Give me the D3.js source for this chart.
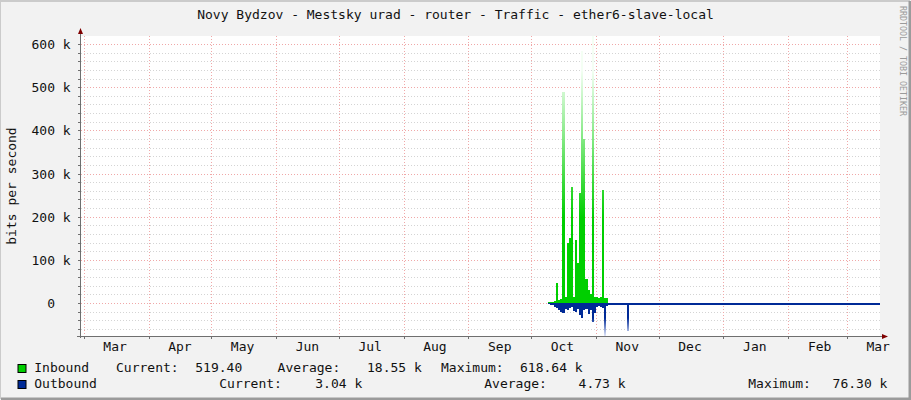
<!DOCTYPE html>
<html>
<head>
<meta charset="utf-8">
<title>Novy Bydzov - Mestsky urad - router - Traffic - ether6-slave-local</title>
<script src="https://cdn.jsdelivr.net/npm/d3@7/dist/d3.min.js"></script>
<style>
    body { margin: 0; background: #f2f2f2; }
    text {
        font-family: 'DejaVu Sans Mono', monospace;
        font-size: 13px;
        fill: #111;
        white-space: pre;
    }
</style>
</head>
<body>
<script>
    // daily samples, kbit/s (outbound drawn below zero)
    var dates = ['2022-10-09', '2022-10-10', '2022-10-11', '2022-10-12', '2022-10-13', '2022-10-14',
        '2022-10-15', '2022-10-16', '2022-10-17', '2022-10-18', '2022-10-19', '2022-10-20',
        '2022-10-21', '2022-10-22', '2022-10-23', '2022-10-24', '2022-10-25', '2022-10-26',
        '2022-10-27', '2022-10-28', '2022-10-29', '2022-10-30', '2022-10-31', '2022-11-01',
        '2022-11-02', '2022-11-03', '2022-11-04', '2022-11-05', '2022-11-06', '2022-11-07',
        '2022-11-16', '2022-11-17', '2022-12-01', '2023-01-01', '2023-02-01', '2023-03-01'];
    var inbound = [2, 3, 3, 5, 47, 8,
        10, 490, 15, 140, 150, 270,
        15, 146, 92, 255, 585, 380,
        55, 30, 22, 618.64, 14, 13,
        12, 14, 262, 12, 12, 0.5,
        0.5, 0.5, 0.5, 0.5, 0.5, 0.5];
    var outbound = [3, 4, 5, 8, 12, 15,
        20, 22, 14, 16, 12, 10,
        18, 20, 14, 28, 35, 15,
        14, 26, 15, 44, 22, 8,
        6, 8, 12, 76.3, 6, 4,
        65, 4, 4, 4, 4, 4];

    var yMajor = [0, 100, 200, 300, 400, 500, 600];
    var yLabels = ['  0  ', '100 k', '200 k', '300 k', '400 k', '500 k', '600 k'];
    var monthLabels = ['Mar', 'Apr', 'May', 'Jun', 'Jul', 'Aug', 'Sep', 'Oct', 'Nov', 'Dec', 'Jan', 'Feb', 'Mar'];

    var legendRows = [
        { name: 'Inbound', color: '#00cf00', parts: [
            ['Current:', 116], ['519.40', 195.3], ['Average:', 277.6], ['18.55 k', 367],
            ['Maximum:', 441], ['618.64 k', 520]] },
        { name: 'Outbound', color: '#002a97', parts: [
            ['Current:', 219.3], ['3.04 k', 315.3], ['Average:', 484.3], ['4.73 k', 578.6],
            ['Maximum:', 748.3], ['76.30 k', 832.6]] }
    ];

    var W = 911, H = 400;
    var plotL = 81, plotR = 880, plotT = 36, plotB = 336;

    var parseDay = d3.timeParse('%Y-%m-%d');
    var parseTime = d3.timeParse('%Y-%m-%d %H:%M');
    var xStart = parseTime('2022-02-27 17:00'),
        xEnd = parseTime('2023-03-16 21:00');

    var rows = dates.map(function(d, i) {
        return { date: parseDay(d), inb: inbound[i], out: outbound[i] };
    });
    rows.push({ date: xEnd, inb: inbound[inbound.length - 1], out: outbound[outbound.length - 1] });

    var x = d3.scaleTime().domain([xStart, xEnd]).range([plotL, plotR]);
    var y = d3.scaleLinear().domain([-76.3, 618.64]).range([plotB, plotT]);

    var svg = d3.select('body').append('svg')
        .attr('width', W)
        .attr('height', H);

    // background and shading border
    svg.append('rect').attr('width', W).attr('height', H).attr('fill', '#f2f2f2');
    svg.append('path').attr('d', 'M0,' + (H - 1) + 'V1H' + (W - 1)).attr('fill', 'none')
        .attr('stroke', '#cbcbcb').attr('stroke-width', 2);
    svg.append('path').attr('d', 'M1,' + (H - 1) + 'H' + (W - 1) + 'V1').attr('fill', 'none')
        .attr('stroke', '#9b9b9b').attr('stroke-width', 3);

    svg.append('rect')
        .attr('x', plotL).attr('y', plotT)
        .attr('width', plotR - plotL).attr('height', plotB - plotT)
        .attr('fill', '#fff');

    var defs = svg.append('defs');
    var gIn = defs.append('linearGradient').attr('id', 'gIn')
        .attr('gradientUnits', 'userSpaceOnUse')
        .attr('x1', 0).attr('x2', 0).attr('y1', y(0)).attr('y2', y(600));
    gIn.append('stop').attr('offset', 0).attr('stop-color', '#00cf00');
    gIn.append('stop').attr('offset', 0.33).attr('stop-color', '#00cf00');
    gIn.append('stop').attr('offset', 0.9).attr('stop-color', '#f4fff4');
    var gOut = defs.append('linearGradient').attr('id', 'gOut')
        .attr('gradientUnits', 'userSpaceOnUse')
        .attr('x1', 0).attr('x2', 0).attr('y1', y(0)).attr('y2', y(-76.3));
    gOut.append('stop').attr('offset', 0).attr('stop-color', '#002a97');
    gOut.append('stop').attr('offset', 0.45).attr('stop-color', '#002a97');
    gOut.append('stop').attr('offset', 1).attr('stop-color', '#e4e9fb');

    // grid
    var minor = d3.range(-60, 620, 20).filter(function(v) { return v % 100 !== 0; });
    var months = d3.timeMonth.range(d3.timeMonth.ceil(xStart), xEnd);

    svg.append('g').selectAll('line').data(minor).enter().append('line')
        .attr('x1', plotL).attr('x2', plotR)
        .attr('y1', function(d) { return Math.round(y(d)) + 0.5; })
        .attr('y2', function(d) { return Math.round(y(d)) + 0.5; })
        .attr('stroke', '#d4d4d4').attr('stroke-dasharray', '1,2');

    svg.append('g').selectAll('line').data(yMajor).enter().append('line')
        .attr('x1', plotL).attr('x2', plotR)
        .attr('y1', function(d) { return Math.round(y(d)) + 0.5; })
        .attr('y2', function(d) { return Math.round(y(d)) + 0.5; })
        .attr('stroke', '#f0a8a8').attr('stroke-dasharray', '1,2');

    svg.append('g').selectAll('line').data(months).enter().append('line')
        .attr('x1', function(d) { return Math.round(x(d)) + 0.5; })
        .attr('x2', function(d) { return Math.round(x(d)) + 0.5; })
        .attr('y1', plotT).attr('y2', plotB)
        .attr('stroke', '#f0a8a8').attr('stroke-dasharray', '1,2');

    // traffic areas
    var areaIn = d3.area()
        .x(function(d) { return x(d.date); })
        .y0(y(0))
        .y1(function(d) { return y(d.inb); })
        .curve(d3.curveStepAfter);
    var areaOut = d3.area()
        .x(function(d) { return x(d.date); })
        .y0(y(0))
        .y1(function(d) { return y(-d.out); })
        .curve(d3.curveStepAfter);

    svg.append('path').datum(rows).attr('d', areaIn)
        .attr('fill', 'url(#gIn)').attr('shape-rendering', 'crispEdges');
    svg.append('path').datum(rows).attr('d', areaOut)
        .attr('fill', 'url(#gOut)').attr('shape-rendering', 'crispEdges');

    // axes
    var axisCol = '#6f6f6f', arrowCol = '#7f0000';
    svg.append('line').attr('x1', plotL - 0.5).attr('x2', plotL - 0.5)
        .attr('y1', plotB + 2).attr('y2', plotT - 3).attr('stroke', axisCol);
    svg.append('line').attr('x1', plotL - 4).attr('x2', plotR + 2)
        .attr('y1', plotB + 0.5).attr('y2', plotB + 0.5).attr('stroke', axisCol);
    svg.append('path').attr('d', 'M78,' + (plotT - 2) + 'L' + (plotL - 0.5) + ',' + (plotT - 8) + 'L83,' + (plotT - 2) + 'Z')
        .attr('fill', arrowCol);
    svg.append('path').attr('d', 'M' + (plotR + 2) + ',' + (plotB - 2) + 'L' + (plotR + 8) + ',' + (plotB + 0.5) + 'L' + (plotR + 2) + ',' + (plotB + 3) + 'Z')
        .attr('fill', arrowCol);

    svg.append('g').selectAll('line').data(d3.range(-60, 620, 20)).enter().append('line')
        .attr('x1', plotL - 3).attr('x2', plotL - 0.5)
        .attr('y1', function(d) { return Math.round(y(d)) + 0.5; })
        .attr('y2', function(d) { return Math.round(y(d)) + 0.5; })
        .attr('stroke', axisCol);
    svg.append('g').selectAll('line').data(months).enter().append('line')
        .attr('x1', function(d) { return Math.round(x(d)) + 0.5; })
        .attr('x2', function(d) { return Math.round(x(d)) + 0.5; })
        .attr('y1', plotB + 0.5).attr('y2', plotB + 3)
        .attr('stroke', axisCol);

    // labels
    svg.append('g').selectAll('text').data(yMajor).enter().append('text')
        .attr('xml:space', 'preserve')
        .attr('x', 31.5)
        .attr('y', function(d) { return y(d) + 5; })
        .text(function(d, i) { return yLabels[i]; });

    svg.append('g').selectAll('text').data(months).enter().append('text')
        .attr('x', function(d) { return x(d3.timeDay.offset(d, 15)); })
        .attr('y', 351)
        .style('text-anchor', 'middle')
        .text(function(d, i) { return monthLabels[i]; });

    svg.append('text')
        .attr('transform', 'translate(16,186) rotate(-90)')
        .style('text-anchor', 'middle')
        .text('bits per second');

    svg.append('text')
        .attr('x', W / 2).attr('y', 19)
        .style('text-anchor', 'middle')
        .text('Novy Bydzov - Mestsky urad - router - Traffic - ether6-slave-local');

    svg.append('text')
        .attr('transform', 'translate(899.5,6) rotate(90)')
        .style('font-size', '8.3px')
        .style('fill', '#9a9a9a')
        .text('RRDTOOL / TOBI OETIKER');

    // legend
    var leg = svg.append('g').selectAll('g').data(legendRows).enter().append('g')
        .attr('transform', function(d, i) { return 'translate(0,' + (i * 16) + ')'; });
    leg.append('rect')
        .attr('x', 18).attr('y', 364.5).attr('width', 8).attr('height', 8)
        .attr('fill', function(d) { return d.color; })
        .attr('stroke', '#000');
    leg.append('text').attr('x', 34.3).attr('y', 372.3).text(function(d) { return d.name; });
    leg.selectAll('text.v').data(function(d) { return d.parts; }).enter().append('text')
        .attr('class', 'v')
        .attr('x', function(d) { return d[1]; })
        .attr('y', 372.3)
        .text(function(d) { return d[0]; });
</script>
</body>
</html>
